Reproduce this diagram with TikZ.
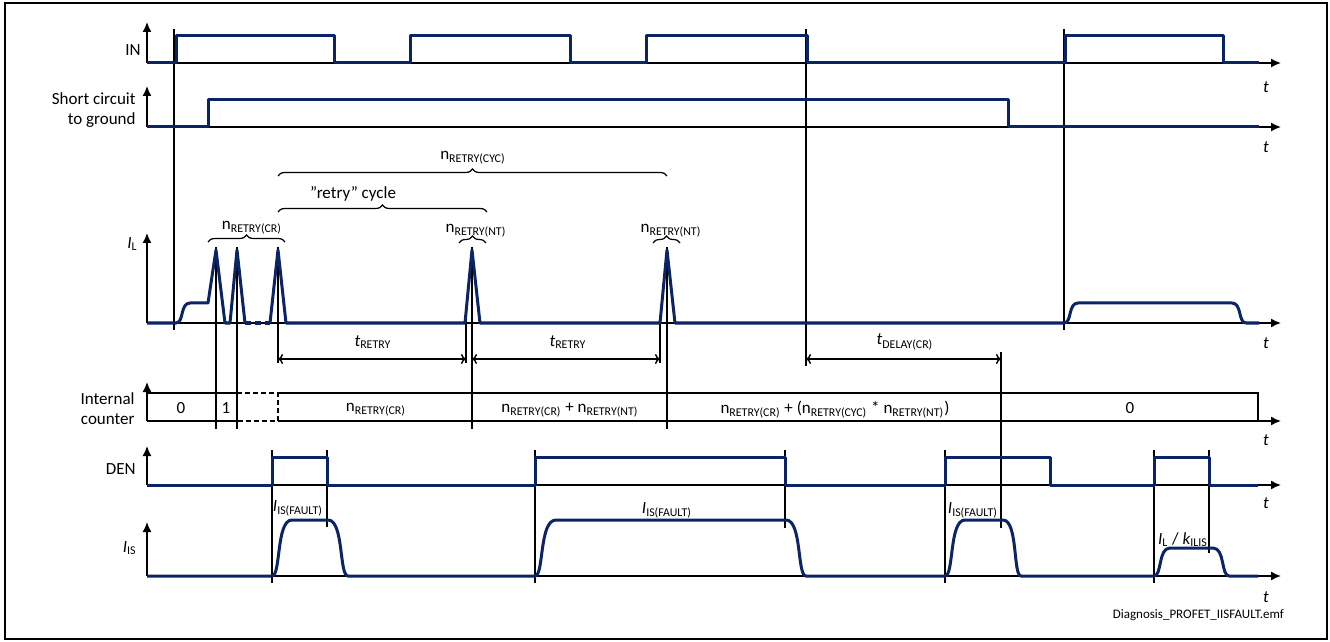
\documentclass[tikz,border=0pt]{standalone}
\usepackage{fontspec}
\setmainfont{Carlito}
\usetikzlibrary{arrows.meta,decorations.pathreplacing}
\definecolor{sigblue}{RGB}{10,36,102}
\tikzset{
  sig/.style={draw=sigblue, line width=1.5pt, line join=round},
  axis/.style={-{Latex[length=5pt,width=4.5pt]}, line width=0.75pt},
  tline/.style={line width=0.6pt},
  dim/.style={{To[length=2.5pt,width=5pt]}-{To[length=2.5pt,width=5pt]}, line width=0.75pt},
  brc/.style={decorate, decoration={brace, amplitude=3.5pt}, line width=0.6pt},
  lbl/.style={font=\fontsize{8.5}{10}\selectfont, inner sep=1pt},
  tlbl/.style={font=\fontsize{8.5}{10}\selectfont\itshape, inner sep=1pt},
}

\begin{document}
\begin{tikzpicture}[x=0.5pt, y=-0.5pt]
\useasboundingbox (0,0) rectangle (1330,642);
\draw[line width=0.75pt] (5,3) rectangle (1327,639);

% axes (counter has its own below)
\foreach \y/\top/\ty/\nm in {63/22/87/in, 127/86/147/sc, 323/233/343/il, 485/446/503/den, 576/522/597/is} {
  \draw[axis] (147,\y) -- (147,\top);
  \draw[axis] (147,\y) -- (1281,\y);
  \node[tlbl] (t\nm) at (1266,\ty) {t};
}
\draw[axis] (147,421) -- (147,382);
\draw[axis] (278,421) -- (1281,421);
\draw[tline] (147,421) -- (237,421);
\node[tlbl] (tcnt) at (1266,440) {t};

% signal names
\node[lbl, anchor=east] (nin) at (143,50) {IN};
\node[lbl, anchor=east, align=right] (nsc) at (138,110) {Short circuit\\to ground};
\node[lbl, anchor=east] (nil) at (140,244) {\textit{I}\textsubscript{L}};
\node[lbl, anchor=east, align=right] (ncnt) at (137,409) {Internal\\counter};
\node[lbl, anchor=east] (nden) at (138,469) {DEN};
\node[lbl, anchor=east] (nis) at (139,548) {\textit{I}\textsubscript{IS}};

% time markers
\draw[tline] (174,29) -- (174,330);
\draw[tline] (216,247) -- (216,429);
\draw[tline] (237,247) -- (237,429);
\draw[tline] (278,247) -- (278,363);
\draw[tline] (466,317) -- (466,363);
\draw[tline] (472,247) -- (472,429);
\draw[tline] (660,317) -- (660,363);
\draw[tline] (667,247) -- (667,429);
\draw[tline] (806,29) -- (806,366);
\draw[tline] (1001,352) -- (1001,528);
\draw[tline] (1064,29) -- (1064,330);
\draw[tline] (272,450) -- (272,583);
\draw[tline] (327,450) -- (327,527);
\draw[tline] (535,450) -- (535,583);
\draw[tline] (785,450) -- (785,528);
\draw[tline] (945,450) -- (945,583);
\draw[tline] (1154,450) -- (1154,583);
\draw[tline] (1209,450) -- (1209,553);

% internal counter
\draw[tline] (147,393) -- (237,393);
\draw[tline] (278,393) -- (1258,393) -- (1258,421);
\draw[tline, dash pattern=on 2.5pt off 1.5pt] (237,393) -- (278,393) -- (278,421) -- (237,421);
\node[lbl] (c0) at (181,408) {0};
\node[lbl] (c1) at (226,408) {1};
\node[lbl] (c2) at (376,410) {n\textsubscript{RETRY(CR)}};
\node[lbl] (c3) at (570,410) {n\textsubscript{RETRY(CR)} + n\textsubscript{RETRY(NT)}};
\node[lbl] (c4) at (835,410) {n\textsubscript{RETRY(CR)} + (n\textsubscript{RETRY(CYC)} * n\textsubscript{RETRY(NT)})};
\node[lbl] (c5) at (1130,408) {0};

% signals
\draw[sig] (147,63) -- (176,63) -- (176,36) -- (334,36) -- (334,63) -- (410,63) -- (410,36)
  -- (570,36) -- (570,63) -- (646,63) -- (646,36) -- (807,36) -- (807,63) -- (1065,63)
  -- (1065,36) -- (1223,36) -- (1223,63) -- (1259,63);
\draw[sig] (147,127) -- (208,127) -- (208,100) -- (1008,100) -- (1008,127) -- (1259,127);
\draw[sig] (147,323) -- (176,323) .. controls (184,323) and (180,303) .. (190,303) -- (208,303)
  -- (216,250) -- (225,323) -- (230,323) -- (237,250) -- (245,323);
\draw[sig, dash pattern=on 3pt off 2pt] (245,323) -- (270,323);
\draw[sig] (270,323) -- (278,250) -- (286,323) -- (465,323) -- (472,250) -- (480,323)
  -- (660,323) -- (667,250) -- (675,323) -- (1064,323)
  .. controls (1072,323) and (1068,303) .. (1078,303) -- (1232,303)
  .. controls (1242,303) and (1238,323) .. (1246,323) -- (1259,323);
\draw[sig] (147,485) -- (272,485) -- (272,457) -- (327,457) -- (327,485) -- (535,485) -- (535,457)
  -- (785,457) -- (785,485) -- (945,485) -- (945,457) -- (1050,457) -- (1050,485)
  -- (1154,485) -- (1154,457) -- (1209,457) -- (1209,485) -- (1258,485);
\draw[sig] (147,576) -- (272,576) .. controls (281,576) and (276,520) .. (292,520) -- (328,520)
  .. controls (344,520) and (339,576) .. (348,576) -- (535,576)
  .. controls (544,576) and (539,520) .. (556,520) -- (786,520)
  .. controls (802,520) and (797,576) .. (806,576) -- (945,576)
  .. controls (954,576) and (949,520) .. (965,520) -- (1003,520)
  .. controls (1018,520) and (1013,576) .. (1021,576) -- (1154,576)
  .. controls (1162,576) and (1158,548) .. (1170,548) -- (1213,548)
  .. controls (1225,548) and (1221,576) .. (1229,576) -- (1258,576);

% braces
\draw[brc] (208,242) -- (285,242);
\draw[brc] (278,212) -- (487,212);
\draw[brc] (278,176) -- (667,176);
\draw[brc] (459,243) -- (486,243);
\draw[brc] (653,243) -- (680,243);
\node[lbl] (ncr) at (252,228) {n\textsubscript{RETRY(CR)}};
\node[lbl] (ncyc) at (473,158) {n\textsubscript{RETRY(CYC)}};
\node[lbl] (ncycle) at (353,194) {"retry" cycle};
\node[lbl] (nnt1) at (476,231) {n\textsubscript{RETRY(NT)}};
\node[lbl] (nnt2) at (671,231) {n\textsubscript{RETRY(NT)}};

% timing arrows
\coordinate (r0) at (278,359);
\coordinate (r1) at (466,359);
\coordinate (r2) at (472,359);
\coordinate (r3) at (660,359);
\coordinate (d0) at (806,359);
\coordinate (d1) at (1001,359);
\draw[dim] (r0) -- (r1);
\draw[dim] (r2) -- (r3);
\draw[dim] (d0) -- (d1);
\node[lbl] (tr1) at (373,342) {\textit{t}\textsubscript{RETRY}};
\node[lbl] (tr2) at (568,342) {\textit{t}\textsubscript{RETRY}};
\node[lbl] (tdl) at (905,342) {\textit{t}\textsubscript{DELAY(CR)}};

% current labels
\node[lbl] (f1) at (298,508) {\textit{I}\textsubscript{IS(FAULT)}};
\node[lbl] (f2) at (667,510) {\textit{I}\textsubscript{IS(FAULT)}};
\node[lbl] (f3) at (973,510) {\textit{I}\textsubscript{IS(FAULT)}};
\node[lbl] (f4) at (1183,540) {\textit{I}\textsubscript{L} / \textit{k}\textsubscript{ILIS}};

\node[font=\fontsize{6.5}{8}\selectfont, anchor=east] (fname) at (1291,615) {Diagnosis\_PROFET\_IISFAULT.emf};
\end{tikzpicture}
\end{document}
